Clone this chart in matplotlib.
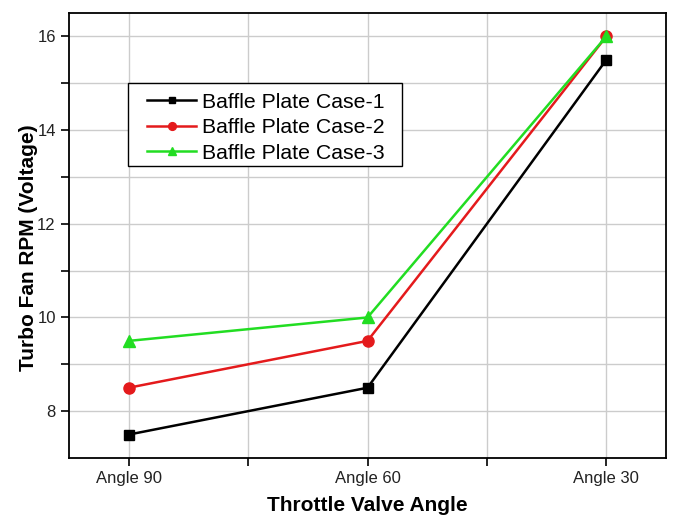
import matplotlib.pyplot as plt
from matplotlib.patches import Rectangle

# -------------------------
# Data
# -------------------------
angles = ["Angle 90", "Angle 60", "Angle 30"]
case1 = [7.5, 8.5, 15.5]
case2 = [8.5, 9.5, 16.0]
case3 = [9.5, 10.0, 16.0]

plt.rcParams['font.family'] = ['Liberation Sans', 'DejaVu Sans']

fig = plt.figure(figsize=(6.99, 5.31), dpi=100)
ax = fig.add_axes([69 / 699, 1 - 458 / 531, 597 / 699, 445 / 531])

x = range(len(angles))
ax.plot(x, case1, color='black', marker='s', markersize=7, lw=1.8, label="Baffle Plate Case-1")
ax.plot(x, case2, color='#e41a1c', marker='o', markersize=8, lw=1.8, label="Baffle Plate Case-2")
ax.plot(x, case3, color='#22dd22', marker='^', markersize=8, lw=1.8, label="Baffle Plate Case-3")

ax.set_xlim(-0.25, 2.25)
ax.set_ylim(7.0, 16.5)
ax.set_xticks(list(x))
ax.set_xticklabels(angles)
ax.set_xticks([0.5, 1.5], minor=True)
ax.set_yticks([8, 10, 12, 14, 16])
ax.set_yticks([9, 11, 13, 15], minor=True)

ax.grid(True, which='both', color='#cccccc', lw=1)
ax.set_axisbelow(True)
ax.tick_params(which='both', direction='out', length=6, width=1.2, labelsize=12,
               colors='black', labelcolor='#222222')
for s in ax.spines.values():
    s.set_linewidth(1.3)

ax.set_xlabel("Throttle Valve Angle", fontsize=15, fontweight='bold', labelpad=7)
ax.set_ylabel("Turbo Fan RPM (Voltage)", fontsize=15, fontweight='bold')
ax.yaxis.set_label_coords(-0.052, 0.472)

# legend box (drawn separately so the padding matches the original)
ax.add_patch(Rectangle((0.099, 0.843 - 0.1865), 0.459, 0.1865, transform=ax.transAxes,
                       facecolor='white', edgecolor='black', lw=1.0, zorder=4))
leg = ax.legend(loc='upper left', bbox_to_anchor=(0.131, 0.821), fontsize=15.3,
                frameon=False, handlelength=2.3, borderpad=0, labelspacing=0.31,
                handletextpad=0.3, borderaxespad=0, markerscale=0.7)
leg.set_zorder(5)

plt.savefig("out.png", dpi=100)
